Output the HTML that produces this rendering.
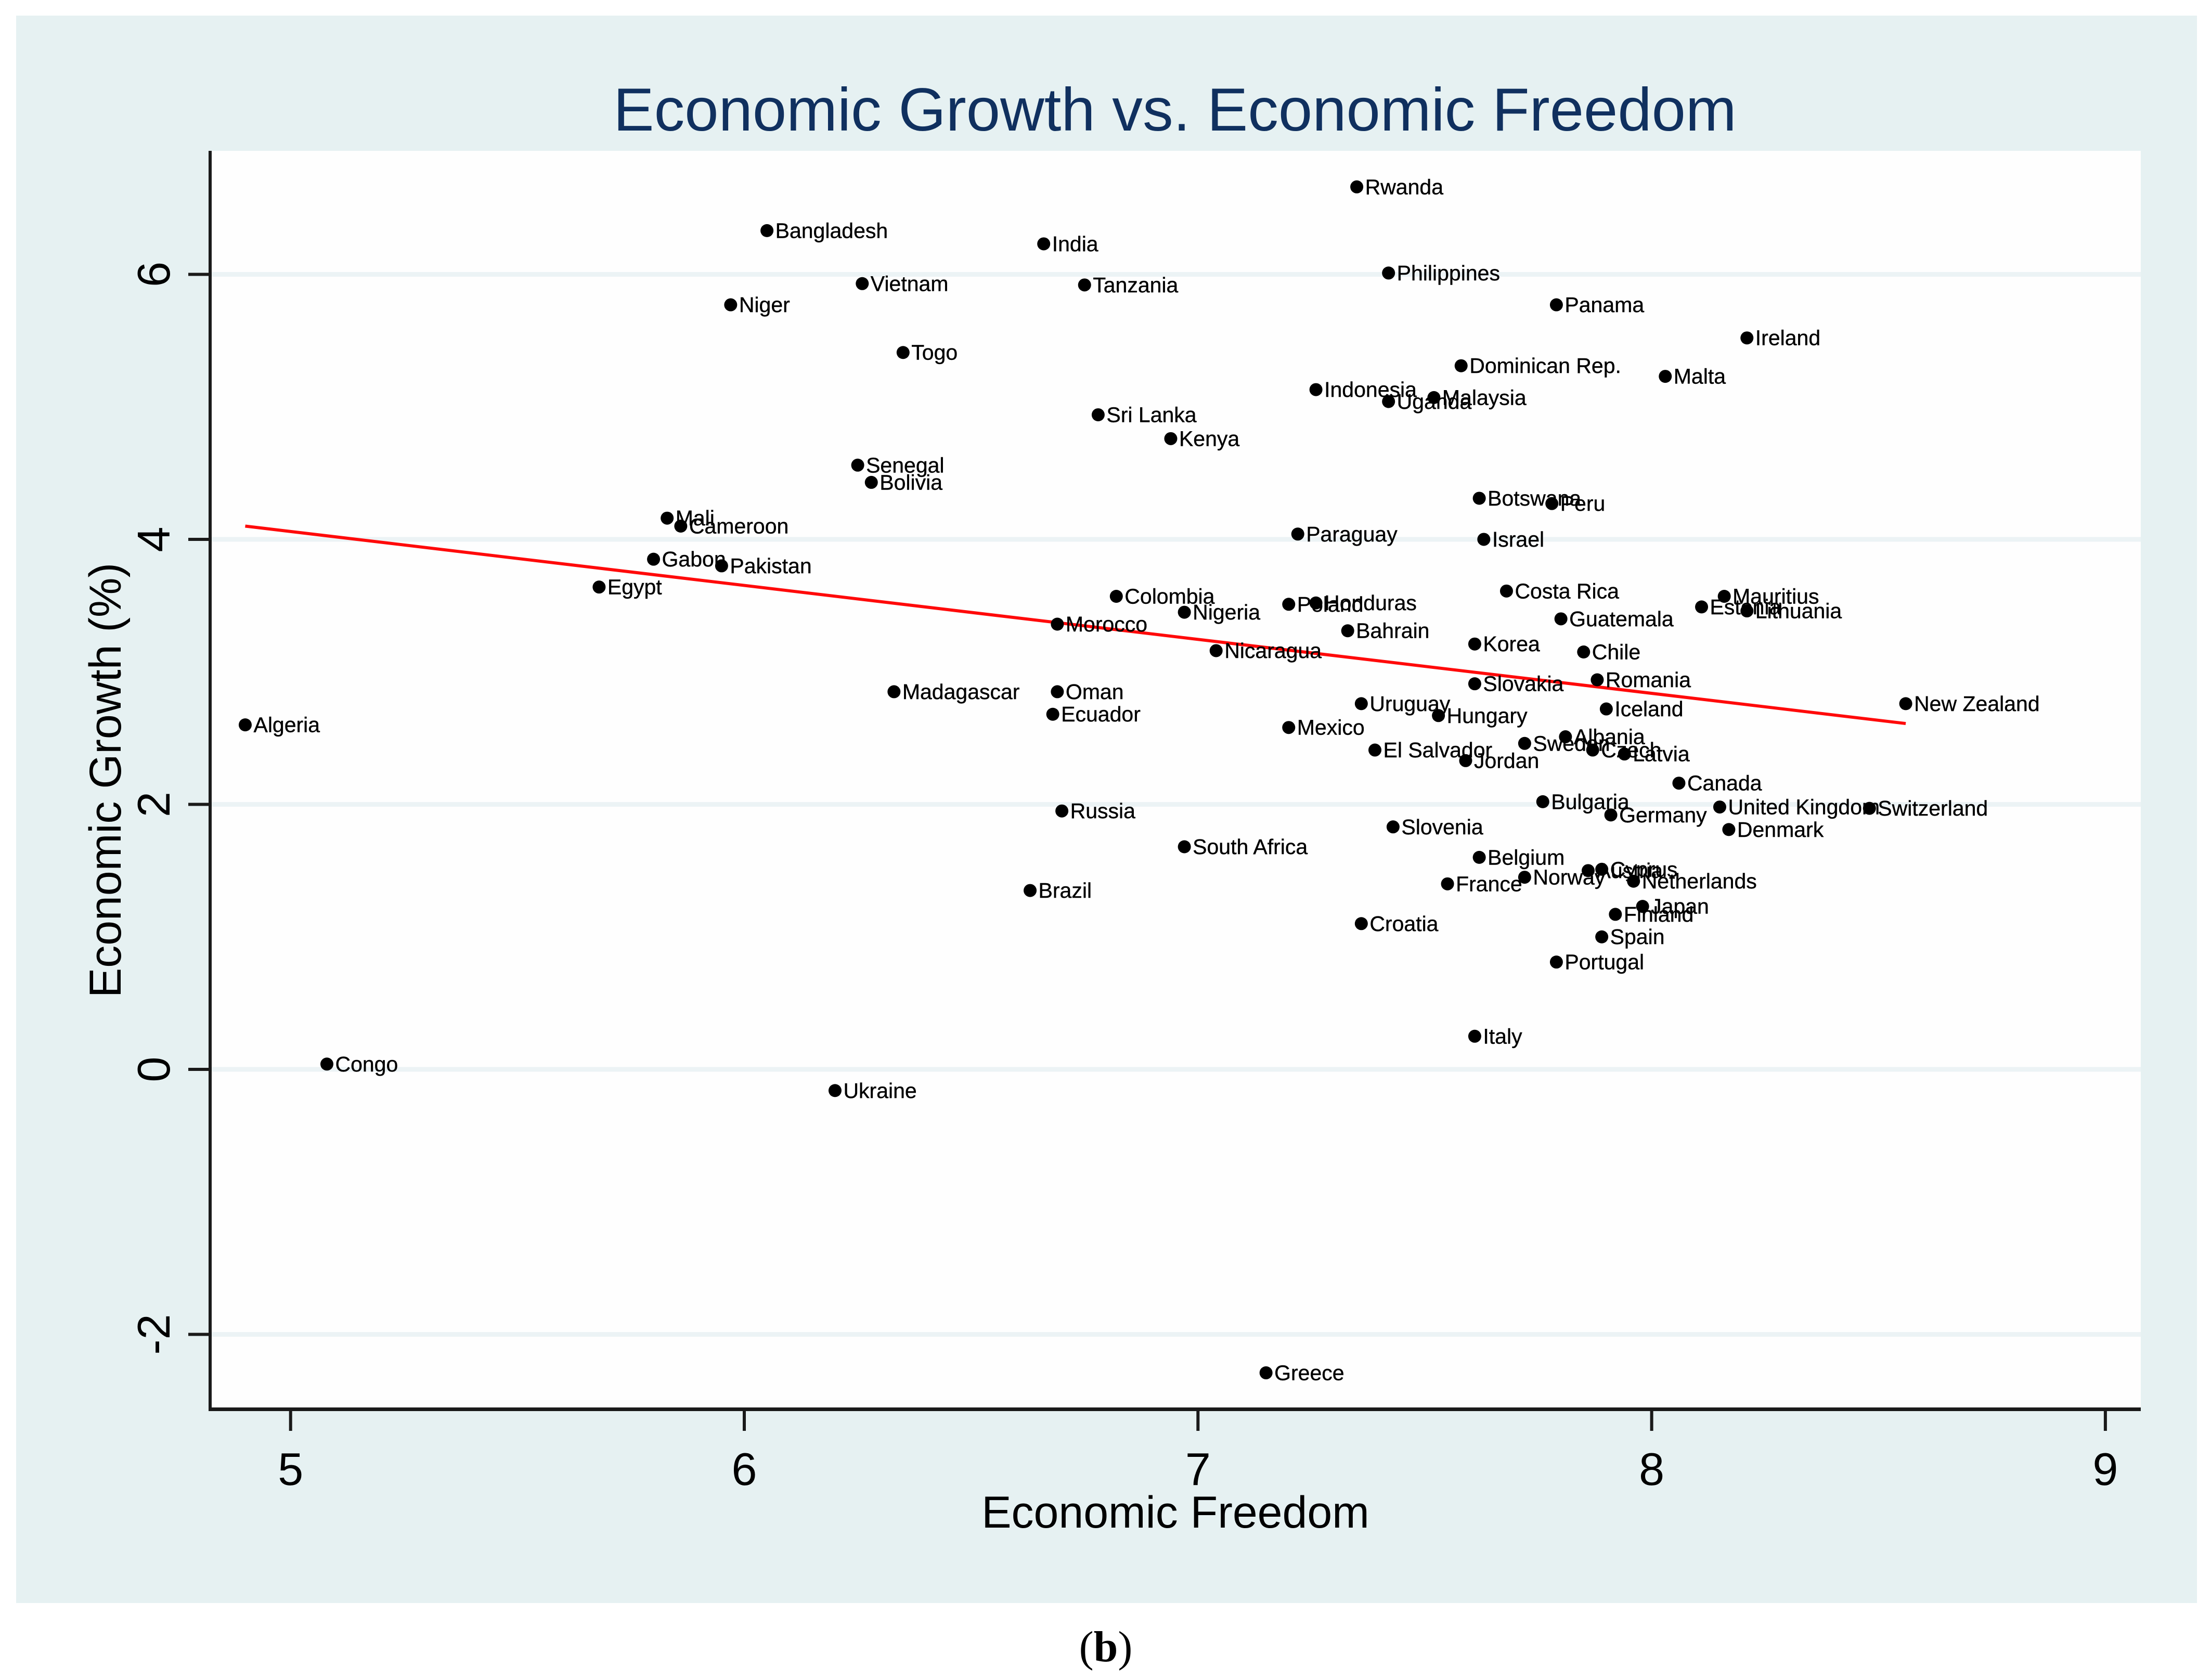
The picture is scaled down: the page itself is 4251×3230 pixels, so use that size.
<!DOCTYPE html>
<html lang="en">
<head>
<meta charset="utf-8">
<title>Economic Growth vs. Economic Freedom</title>
<style>
html,body{margin:0;padding:0;background:#fff;width:4251px;height:3230px;overflow:hidden}
svg{display:block;font-family:"Liberation Sans",Arial,sans-serif}
</style>
</head>
<body>
<svg id="chart" xmlns="http://www.w3.org/2000/svg" width="4251" height="3230" viewBox="0 0 4251 3230">
  <rect x="0" y="0" width="4251" height="3230" fill="#ffffff"/>
  <rect x="31" y="30" width="4193" height="3052" fill="#e6f1f2"/>
  <rect x="404" y="290" width="3712" height="2420" fill="#fefefe"/>
  <g id="grid"></g>
  <g id="fit"></g>
  <g id="labels"></g>
  <g id="points"></g>
  <g id="axes"></g>
  <text x="2259" y="251" text-anchor="middle" font-size="117.4" fill="#10305f">Economic Growth vs. Economic Freedom</text>
  <text x="2260" y="2937" text-anchor="middle" font-size="86" fill="#000">Economic Freedom</text>
  <text x="232" y="1500" text-anchor="middle" font-size="86" fill="#000" transform="rotate(-90 232 1500)">Economic Growth (%)</text>
  <text x="2126" y="3194" text-anchor="middle" font-size="84" fill="#000" style="font-family:'Liberation Serif',serif">(<tspan font-weight="bold">b</tspan>)</text>
</svg>
<script>
const countries = ["Rwanda","Bangladesh","India","Philippines","Vietnam","Tanzania","Niger","Panama","Ireland","Togo","Dominican Rep.","Malta","Indonesia","Malaysia","Uganda","Sri Lanka","Kenya","Senegal","Bolivia","Botswana","Peru","Mali","Cameroon","Paraguay","Israel","Gabon","Pakistan","Egypt","Costa Rica","Colombia","Mauritius","Poland","Honduras","Estonia","Lithuania","Nigeria","Guatemala","Morocco","Bahrain","Korea","Nicaragua","Chile","Romania","Slovakia","Madagascar","Oman","Uruguay","New Zealand","Iceland","Ecuador","Hungary","Algeria","Mexico","Albania","Sweden","Czech","El Salvador","Latvia","Jordan","Canada","Bulgaria","United Kingdom","Switzerland","Germany","Russia","Denmark","Slovenia","South Africa","Belgium","Austria","Cyprus","Norway","Netherlands","France","Brazil","Japan","Finland","Croatia","Spain","Portugal","Italy","Congo","Ukraine","Greece"];
const freedomValues = [7.35,6.05,6.66,7.42,6.26,6.75,5.97,7.79,8.21,6.35,7.58,8.03,7.26,7.52,7.42,6.78,6.94,6.25,6.28,7.62,7.78,5.83,5.86,7.22,7.63,5.80,5.95,5.68,7.68,6.82,8.16,7.20,7.26,8.11,8.21,6.97,7.80,6.69,7.33,7.61,7.04,7.85,7.88,7.61,6.33,6.69,7.36,8.56,7.90,6.68,7.53,4.90,7.20,7.81,7.72,7.87,7.39,7.94,7.59,8.06,7.76,8.15,8.48,7.91,6.70,8.17,7.43,6.97,7.62,7.86,7.89,7.72,7.96,7.55,6.63,7.98,7.92,7.36,7.89,7.79,7.61,5.08,6.20,7.15];
const growthValues = [6.66,6.33,6.23,6.01,5.93,5.92,5.77,5.77,5.52,5.41,5.31,5.23,5.13,5.07,5.04,4.94,4.76,4.56,4.43,4.31,4.27,4.16,4.10,4.04,4.00,3.85,3.80,3.64,3.61,3.57,3.57,3.51,3.52,3.49,3.46,3.45,3.40,3.36,3.31,3.21,3.16,3.15,2.94,2.91,2.85,2.85,2.76,2.76,2.72,2.68,2.67,2.60,2.58,2.51,2.46,2.41,2.41,2.38,2.33,2.16,2.02,1.98,1.97,1.92,1.95,1.81,1.83,1.68,1.60,1.50,1.51,1.45,1.42,1.40,1.35,1.23,1.17,1.10,1.00,0.81,0.25,0.04,-0.16,-2.29];
const fitFreedom = [4.90,8.56];
const fitGrowth = [4.10,2.61];
const xTicks = [5,6,7,8,9];
const yTicks = [-2,0,2,4,6];

const NS = "http://www.w3.org/2000/svg";
function xPos(v){ return 558.7 + (v - 5) * 872.3; }
function yPos(v){ return 2056 - v * 254.76; }
function make(tag, attrs, parent){
  const el = document.createElementNS(NS, tag);
  for (const k in attrs) el.setAttribute(k, attrs[k]);
  parent.appendChild(el);
  return el;
}
const gridG = document.getElementById("grid");
const fitG = document.getElementById("fit");
const labelG = document.getElementById("labels");
const pointG = document.getElementById("points");
const axesG = document.getElementById("axes");

yTicks.forEach(function(t){
  const g = make("line", {x1:407, x2:4116, y1:yPos(t), y2:yPos(t), stroke:"#ecf3f5", "stroke-width":9}, gridG);
  
  
});

const fitLine = make("line", {x1:xPos(fitFreedom[0]), y1:yPos(fitGrowth[0]), x2:xPos(fitFreedom[1]), y2:yPos(fitGrowth[1]), stroke:"#ff0a0a", "stroke-width":6}, fitG);



countries.forEach(function(name, i){
  const cx = xPos(freedomValues[i]);
  const cy = yPos(growthValues[i]);
  const dot = make("circle", {cx:cx, cy:cy, r:12.5, fill:"#000"}, pointG);
  
  
  const label = make("text", {x:cx + 16, y:cy + 14, "font-size":41, fill:"#000", stroke:"#000", "stroke-width":0.4}, labelG);
  label.textContent = name;
  
  
});

const yAxis = make("line", {x1:404, x2:404, y1:290, y2:2713, stroke:"#1a1a1a", "stroke-width":6}, axesG);


const xAxis = make("line", {x1:401, x2:4116, y1:2709.5, y2:2709.5, stroke:"#1a1a1a", "stroke-width":7}, axesG);



xTicks.forEach(function(t){
  const x = xPos(t);
  const tick = make("line", {x1:x, x2:x, y1:2710, y2:2751, stroke:"#1a1a1a", "stroke-width":6}, axesG);
  
  
  const lab = make("text", {x:x, y:2855, "text-anchor":"middle", "font-size":88, fill:"#000"}, axesG);
  lab.textContent = String(t);
  
  
});

yTicks.forEach(function(t){
  const y = yPos(t);
  const tick = make("line", {x1:362, x2:404, y1:y, y2:y, stroke:"#1a1a1a", "stroke-width":6}, axesG);
  
  
  const lab = make("text", {x:326, y:y, "text-anchor":"middle", "font-size":88, fill:"#000", transform:"rotate(-90 326 " + y + ")"}, axesG);
  lab.textContent = String(t);
  
  
});
</script>
</body>
</html>
